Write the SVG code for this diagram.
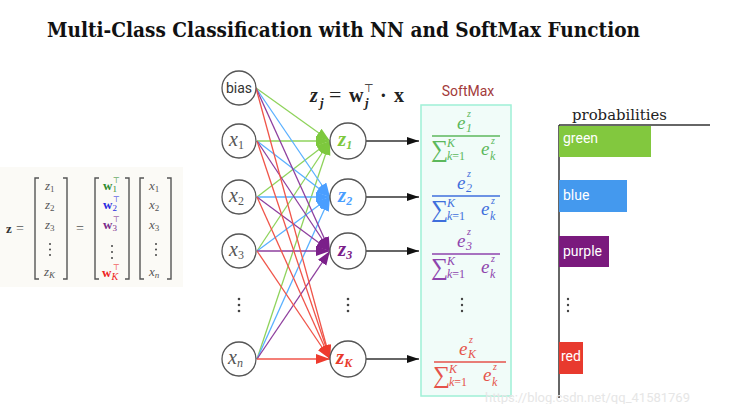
<svg xmlns="http://www.w3.org/2000/svg" width="732" height="404" viewBox="0 0 732 404">
<defs>
<style>
.title{font-family:"DejaVu Serif","Liberation Serif",serif;font-size:20px;font-weight:bold;fill:#111}
.m{font-family:"Liberation Serif","DejaVu Serif",serif;font-style:italic;fill:#555}
.mb{font-family:"Liberation Serif","DejaVu Serif",serif;font-weight:bold}
.sans{font-family:Roboto,"Liberation Sans",sans-serif}
.node{fill:#fff;stroke:#555;stroke-width:1.3}
.br{fill:none;stroke:#555;stroke-width:1.4}
.e{fill:none;stroke-width:1.3}
.g{stroke:#8fd35c}.b{stroke:#5ab0ff}.p{stroke:#8e3f9e}.r{stroke:#f0554a}
.dot{fill:#444}
.bl{font-family:Roboto,"Liberation Sans",sans-serif;font-size:14px;fill:#fff}
.fi{font-family:"Liberation Serif","DejaVu Serif",serif;font-style:italic}
</style>
<marker id="ag" markerUnits="userSpaceOnUse" markerWidth="15" markerHeight="11" refX="14" refY="5" orient="auto"><path d="M0,0 L14,5 L0,10 z" fill="#7dc83d"/></marker>
<marker id="ab" markerUnits="userSpaceOnUse" markerWidth="15" markerHeight="11" refX="14" refY="5" orient="auto"><path d="M0,0 L14,5 L0,10 z" fill="#4a9eff"/></marker>
<marker id="ap" markerUnits="userSpaceOnUse" markerWidth="15" markerHeight="11" refX="14" refY="5" orient="auto"><path d="M0,0 L14,5 L0,10 z" fill="#7b1f8a"/></marker>
<marker id="ar" markerUnits="userSpaceOnUse" markerWidth="15" markerHeight="11" refX="14" refY="5" orient="auto"><path d="M0,0 L14,5 L0,10 z" fill="#ee3b2e"/></marker>
<marker id="ak" markerUnits="userSpaceOnUse" markerWidth="13" markerHeight="10" refX="12" refY="4" orient="auto"><path d="M0,0 L12,4 L0,8 z" fill="#111"/></marker>
</defs>
<rect width="732" height="404" fill="#fff"/>
<text class="title" x="47" y="37" textLength="593" lengthAdjust="spacingAndGlyphs">Multi-Class Classification with NN and SoftMax Function</text>

<g id="matrix">
<rect x="0" y="167" width="183" height="120" fill="#fbfaf6"/>
<text class="mb" x="6" y="233" font-size="13" fill="#333">z</text>
<text x="16" y="233" font-size="14" fill="#555" font-family="Liberation Serif,serif">=</text>
<path class="br" d="M39,178 H35 V279 H39 M63,178 H67 V279 H63"/>
<text class="m" font-size="13"><tspan x="45" y="190">z</tspan><tspan font-size="9" font-style="normal" dy="2">1</tspan></text>
<text class="m" font-size="13"><tspan x="45" y="209">z</tspan><tspan font-size="9" font-style="normal" dy="2">2</tspan></text>
<text class="m" font-size="13"><tspan x="45" y="229">z</tspan><tspan font-size="9" font-style="normal" dy="2">3</tspan></text>
<circle class="dot" cx="50" cy="244" r="1"/><circle class="dot" cx="50" cy="249.5" r="1"/><circle class="dot" cx="50" cy="255" r="1"/>
<text class="m" font-size="13"><tspan x="44" y="276">z</tspan><tspan font-size="9" dy="2">K</tspan></text>
<text x="76" y="233" font-size="14" fill="#555" font-family="Liberation Serif,serif">=</text>
<path class="br" d="M99,178 H95 V279 H99 M125,178 H129 V279 H125"/>
<text class="mb" font-size="13" fill="#2e8b2e"><tspan x="103" y="190">w</tspan><tspan font-size="9" font-weight="normal" dy="2">1</tspan></text>
<text x="113" y="183" font-size="8" fill="#2e8b2e" font-family="DejaVu Sans,sans-serif">⊤</text>
<text class="mb" font-size="13" fill="#2a2ae0"><tspan x="103" y="209">w</tspan><tspan font-size="9" font-weight="normal" dy="2">2</tspan></text>
<text x="113" y="202" font-size="8" fill="#2a2ae0" font-family="DejaVu Sans,sans-serif">⊤</text>
<text class="mb" font-size="13" fill="#7a2a8a"><tspan x="103" y="229">w</tspan><tspan font-size="9" font-weight="normal" dy="2">3</tspan></text>
<text x="113" y="222" font-size="8" fill="#7a2a8a" font-family="DejaVu Sans,sans-serif">⊤</text>
<circle class="dot" cx="112" cy="246" r="1"/><circle class="dot" cx="112" cy="252" r="1"/><circle class="dot" cx="112" cy="258" r="1"/>
<text class="mb" font-size="13" fill="#ee2222"><tspan x="102" y="277">w</tspan><tspan font-size="10" font-weight="normal" font-style="italic" dy="3">K</tspan></text>
<text x="113" y="270" font-size="8" fill="#ee2222" font-family="DejaVu Sans,sans-serif">⊤</text>
<path class="br" d="M144,178 H140 V279 H144 M167,178 H171 V279 H167"/>
<text class="m" font-size="13"><tspan x="149" y="190">x</tspan><tspan font-size="9" font-style="normal" dy="2">1</tspan></text>
<text class="m" font-size="13"><tspan x="149" y="209">x</tspan><tspan font-size="9" font-style="normal" dy="2">2</tspan></text>
<text class="m" font-size="13"><tspan x="149" y="229">x</tspan><tspan font-size="9" font-style="normal" dy="2">3</tspan></text>
<circle class="dot" cx="156" cy="244" r="1"/><circle class="dot" cx="156" cy="249.5" r="1"/><circle class="dot" cx="156" cy="255" r="1"/>
<text class="m" font-size="13"><tspan x="149" y="276">x</tspan><tspan font-size="9" dy="2">n</tspan></text>
</g>

<g id="connectors">
<g class="e g">
<line x1="256" y1="88" x2="330" y2="141" marker-end="url(#ag)"/>
<line x1="257" y1="141" x2="330" y2="141" marker-end="url(#ag)"/>
<line x1="257" y1="197" x2="330" y2="141" marker-end="url(#ag)"/>
<line x1="257" y1="251" x2="330" y2="141" marker-end="url(#ag)"/>
<line x1="257" y1="359" x2="330" y2="141" marker-end="url(#ag)"/>
</g>
<g class="e b">
<line x1="256" y1="88" x2="330" y2="197" marker-end="url(#ab)"/>
<line x1="257" y1="141" x2="330" y2="197" marker-end="url(#ab)"/>
<line x1="257" y1="197" x2="330" y2="197" marker-end="url(#ab)"/>
<line x1="257" y1="251" x2="330" y2="197" marker-end="url(#ab)"/>
<line x1="257" y1="359" x2="330" y2="197" marker-end="url(#ab)"/>
</g>
<g class="e p">
<line x1="256" y1="88" x2="330" y2="251" marker-end="url(#ap)"/>
<line x1="257" y1="141" x2="330" y2="251" marker-end="url(#ap)"/>
<line x1="257" y1="197" x2="330" y2="251" marker-end="url(#ap)"/>
<line x1="257" y1="251" x2="330" y2="251" marker-end="url(#ap)"/>
<line x1="257" y1="359" x2="330" y2="251" marker-end="url(#ap)"/>
</g>
<g class="e r">
<line x1="256" y1="88" x2="330" y2="359" marker-end="url(#ar)"/>
<line x1="257" y1="141" x2="330" y2="359" marker-end="url(#ar)"/>
<line x1="257" y1="197" x2="330" y2="359" marker-end="url(#ar)"/>
<line x1="257" y1="251" x2="330" y2="359" marker-end="url(#ar)"/>
<line x1="257" y1="359" x2="330" y2="359" marker-end="url(#ar)"/>
</g>
<g stroke="#333" stroke-width="1.5">
<line x1="366" y1="141" x2="419" y2="141" marker-end="url(#ak)"/>
<line x1="366" y1="197" x2="419" y2="197" marker-end="url(#ak)"/>
<line x1="366" y1="251" x2="419" y2="251" marker-end="url(#ak)"/>
<line x1="366" y1="359" x2="419" y2="359" marker-end="url(#ak)"/>
</g>
</g>

<g id="bias"><circle class="node" cx="239" cy="88" r="17"/><text class="sans" x="239" y="93" font-size="14" fill="#333" text-anchor="middle">bias</text></g>
<g id="x1"><circle class="node" cx="239" cy="141" r="17"/><text class="m" font-size="20" fill="#444"><tspan x="229" y="146">x</tspan><tspan font-size="12" font-style="normal" dy="3">1</tspan></text></g>
<g id="x2"><circle class="node" cx="239" cy="197" r="17"/><text class="m" font-size="20" fill="#444"><tspan x="229" y="202">x</tspan><tspan font-size="12" font-style="normal" dy="3">2</tspan></text></g>
<g id="x3"><circle class="node" cx="239" cy="251" r="17"/><text class="m" font-size="20" fill="#444"><tspan x="229" y="256">x</tspan><tspan font-size="12" font-style="normal" dy="3">3</tspan></text></g>
<g id="xdots"><circle class="dot" cx="239" cy="299" r="1.3"/><circle class="dot" cx="239" cy="305" r="1.3"/><circle class="dot" cx="239" cy="311" r="1.3"/></g>
<g id="xn"><circle class="node" cx="239" cy="359" r="17"/><text class="m" font-size="20" fill="#444"><tspan x="228" y="364">x</tspan><tspan font-size="12" dy="3">n</tspan></text></g>

<g id="formula" fill="#222" font-family="Liberation Serif,DejaVu Serif,serif" font-weight="bold">
<text x="310" y="102" font-size="20" font-style="italic">z</text>
<text x="320" y="107" font-size="13" font-style="italic">j</text>
<text x="329" y="102" font-size="22" font-weight="normal">=</text>
<text x="349" y="102" font-size="20">w</text>
<text x="365" y="107" font-size="13" font-style="italic">j</text>
<text x="364" y="92" font-size="11" font-weight="normal" font-family="DejaVu Sans,sans-serif">⊤</text>
<text x="380" y="102" font-size="20">·</text>
<text x="394" y="102" font-size="20">x</text>
</g>

<g id="z1"><circle class="node" cx="348" cy="141" r="18"/><text class="mb" font-size="21" fill="#7dc83d" font-style="italic"><tspan x="338" y="146">z</tspan><tspan font-size="12" dy="3">1</tspan></text></g>
<g id="z2"><circle class="node" cx="348" cy="197" r="18"/><text class="mb" font-size="21" fill="#4a9eff" font-style="italic"><tspan x="338" y="202">z</tspan><tspan font-size="12" dy="3">2</tspan></text></g>
<g id="z3"><circle class="node" cx="348" cy="251" r="18"/><text class="mb" font-size="21" fill="#7b1f8a" font-style="italic"><tspan x="338" y="256">z</tspan><tspan font-size="12" dy="3">3</tspan></text></g>
<g id="zdots"><circle class="dot" cx="348" cy="299" r="1.3"/><circle class="dot" cx="348" cy="305" r="1.3"/><circle class="dot" cx="348" cy="311" r="1.3"/></g>
<g id="zK"><circle class="node" cx="348" cy="359" r="18"/><text class="mb" font-size="21" fill="#e8392b" font-style="italic"><tspan x="336" y="364">z</tspan><tspan font-size="12" dy="3">K</tspan></text></g>

<g id="softmax">
<text class="sans" x="468" y="96" font-size="14" fill="#a33a3a" text-anchor="middle">SoftMax</text>
<rect x="421" y="105" width="90" height="291" fill="#f1fcf9" stroke="#9ff0d6" stroke-width="1.5"/>
<g transform="translate(466,136)" fill="#5cb85c" class="fi">
<text x="-9" y="-7" font-size="19">e</text><text x="1" y="-19" font-size="10">z</text><text x="0" y="-4" font-size="12">1</text>
<line x1="-34" y1="0" x2="34" y2="0" stroke="#5cb85c" stroke-width="1.4"/>
<text x="-35" y="21" font-size="24" font-style="normal">∑</text><text x="-19" y="11" font-size="12">K</text><text x="-19" y="24" font-size="12">k<tspan font-style="normal">=1</tspan></text>
<text x="15" y="19" font-size="19">e</text><text x="25" y="8" font-size="10">z</text><text x="24" y="24" font-size="12">k</text>
</g>
<g transform="translate(466,196)" fill="#3f6fdc" class="fi">
<text x="-9" y="-7" font-size="19">e</text><text x="1" y="-19" font-size="10">z</text><text x="0" y="-4" font-size="12">2</text>
<line x1="-34" y1="0" x2="34" y2="0" stroke="#3f6fdc" stroke-width="1.4"/>
<text x="-35" y="21" font-size="24" font-style="normal">∑</text><text x="-19" y="11" font-size="12">K</text><text x="-19" y="24" font-size="12">k<tspan font-style="normal">=1</tspan></text>
<text x="15" y="19" font-size="19">e</text><text x="25" y="8" font-size="10">z</text><text x="24" y="24" font-size="12">k</text>
</g>
<g transform="translate(466,254)" fill="#8e44ad" class="fi">
<text x="-9" y="-7" font-size="19">e</text><text x="1" y="-19" font-size="10">z</text><text x="0" y="-4" font-size="12">3</text>
<line x1="-34" y1="0" x2="34" y2="0" stroke="#8e44ad" stroke-width="1.4"/>
<text x="-35" y="21" font-size="24" font-style="normal">∑</text><text x="-19" y="11" font-size="12">K</text><text x="-19" y="24" font-size="12">k<tspan font-style="normal">=1</tspan></text>
<text x="15" y="19" font-size="19">e</text><text x="25" y="8" font-size="10">z</text><text x="24" y="24" font-size="12">k</text>
</g>
<circle class="dot" cx="462" cy="299" r="1.2"/><circle class="dot" cx="462" cy="305" r="1.2"/><circle class="dot" cx="462" cy="311" r="1.2"/>
<g transform="translate(470,362)" fill="#e5534b" class="fi">
<text x="-11" y="-7" font-size="19">e</text><text x="-1" y="-19" font-size="10">z</text><text x="-2" y="-4" font-size="12">K</text>
<line x1="-36" y1="0" x2="36" y2="0" stroke="#e5534b" stroke-width="1.4"/>
<text x="-37" y="21" font-size="24" font-style="normal">∑</text><text x="-21" y="11" font-size="12">K</text><text x="-21" y="24" font-size="12">k<tspan font-style="normal">=1</tspan></text>
<text x="13" y="19" font-size="19">e</text><text x="23" y="8" font-size="10">z</text><text x="22" y="24" font-size="12">k</text>
</g>
</g>

<g id="chart">
<text x="572" y="120" font-size="15" fill="#222" font-family="DejaVu Serif,Liberation Serif,serif" textLength="95" lengthAdjust="spacingAndGlyphs">probabilities</text>
<line x1="559" y1="125" x2="710" y2="125" stroke="#333" stroke-width="1.3"/>
<line x1="559" y1="125" x2="559" y2="398" stroke="#333" stroke-width="1.5"/>
<rect x="559" y="126" width="92" height="31" fill="#82c83e"/><text class="bl" x="563" y="143">green</text>
<rect x="559" y="180" width="68" height="32" fill="#4499ee"/><text class="bl" x="563" y="200">blue</text>
<rect x="559" y="236" width="50" height="31" fill="#7a1a7d"/><text class="bl" x="563" y="256">purple</text>
<circle class="dot" cx="568" cy="299" r="1.2"/><circle class="dot" cx="568" cy="305" r="1.2"/><circle class="dot" cx="568" cy="311" r="1.2"/>
<rect x="559" y="342" width="24" height="32" fill="#e83a2e"/><text class="bl" x="561" y="361">red</text>
</g>
<text x="485" y="402" font-size="13" fill="#e6e6e6" font-family="Roboto,Liberation Sans,sans-serif">https://blog.csdn.net/qq_41581769</text>
</svg>
